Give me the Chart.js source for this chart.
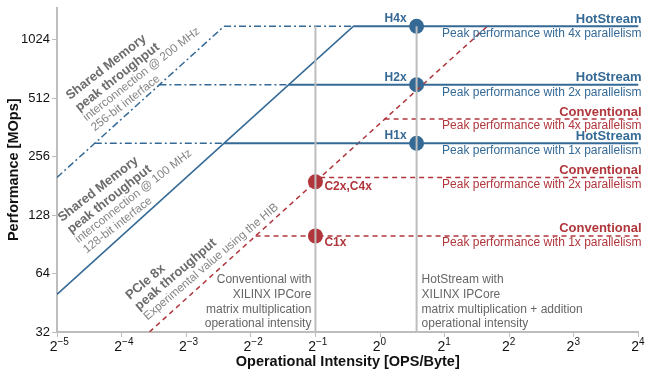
<!DOCTYPE html>
<html><head><meta charset="utf-8">
<script src="https://cdn.jsdelivr.net/npm/chart.js@4.4.1/dist/chart.umd.min.js"></script>
<style>html,body{margin:0;padding:0;background:#fff;}#wrap{width:646px;height:372px;}</style>
</head><body><div id="wrap"><canvas id="c" width="646" height="372"></canvas></div>
<script>
// ---- data ----
const xTickExponents = [-5, -4, -3, -2, -1, 0, 1, 2, 3, 4];
const yTicks = [32, 64, 128, 256, 512, 1024];
const xRange = [0.03125, 16];
const yRange = [32, 1500];

const hotStreamLevels = [300, 600, 1200];          // H1x, H2x, H4x (MOps)
const hotStreamLabels = ['H1x', 'H2x', 'H4x'];
const hotStreamOI = 1.48;
const hotStreamKnee100 = [0.1875, 0.375, 0.75];    // meets 100 MHz shared-memory roof
const hotStreamKnee200 = [0.046875, 0.09375, 0.1875]; // meets 200 MHz shared-memory roof
const conventionalLevels = [100, 200, 400];        // 1x, 2x, 4x
const conventionalKnee = [0.263, 0.526, 1.05];      // meets PCIe roof
const conventionalOI = 0.5;
const conventionalPoints = [100, 190];             // C1x ; C2x,C4x
const conventionalLabels = ['C1x', 'C2x,C4x'];
const parallelism = ['1x', '2x', '4x'];
const sharedMem100Roof = [[0.03125, 50], [0.75, 1200]];
const sharedMem200Roof = [[0.03125, 200], [0.1875, 1200]];
const pcieRoof = [[0.0842, 32], [3.16, 1200]];
const verticalTop = 1200;

// ---- styles ----
const BLUE = '#356a96';
const RED = '#b0363c';
const GRAY = '#bdbdbd';
const FONT = '"Liberation Sans", Arial, sans-serif';
const DASHDOT = [7, 3, 2, 3];
const DASH = [5, 4];

const pts = a => a.map(p => ({x: p[0], y: p[1]}));
const line = (data, color, width, dash) => ({
  type: 'line', data, borderColor: color, borderWidth: width, borderDash: dash || [],
  pointRadius: 0, fill: false, tension: 0, borderCapStyle: 'butt'
});

const datasets = [];
datasets.push(line([{x: conventionalOI, y: yRange[0]}, {x: conventionalOI, y: verticalTop}], GRAY, 2));
datasets.push(line([{x: hotStreamOI, y: yRange[0]}, {x: hotStreamOI, y: verticalTop}], GRAY, 2));
datasets.push(line(pts(sharedMem200Roof), BLUE, 1.5, DASHDOT));
datasets.push(line(pts(sharedMem100Roof), BLUE, 1.5));
hotStreamLevels.forEach((lv, i) => {
  datasets.push(line([{x: hotStreamKnee200[i], y: lv}, {x: hotStreamKnee100[i], y: lv}], BLUE, 1.5, DASHDOT));
  datasets.push(line([{x: hotStreamKnee100[i], y: lv}, {x: xRange[1], y: lv}], BLUE, 2));
});
datasets.push(line(pts(pcieRoof), RED, 1.5, DASH));
conventionalLevels.forEach((lv, i) => {
  datasets.push(line([{x: conventionalKnee[i], y: lv}, {x: xRange[1], y: lv}], RED, 1.5, DASH));
});
datasets.push({type: 'line', showLine: false, data: hotStreamLevels.map(v => ({x: hotStreamOI, y: v})),
  pointRadius: 7.5, pointBackgroundColor: BLUE, pointBorderWidth: 0, borderColor: BLUE});
datasets.push({type: 'line', showLine: false, data: conventionalPoints.map(v => ({x: conventionalOI, y: v})),
  pointRadius: 7.5, pointBackgroundColor: RED, pointBorderWidth: 0, borderColor: RED});

// ---- annotation layout (pixels) ----
const rotated = [
  {x: 70, y: 100, angle: 38, dy: [0, 15, 27, 40],
   lines: [['Shared Memory', 1], ['peak throughput', 1], ['interconnection @ 200 MHz', 0], ['256-bit interface', 0]]},
  {x: 62, y: 222, angle: 38, dy: [0, 15, 27, 40],
   lines: [['Shared Memory', 1], ['peak throughput', 1], ['interconnection @ 100 MHz', 0], ['128-bit interface', 0]]},
  {x: 130, y: 300, angle: 40.5, dy: [0, 14, 27],
   lines: [['PCIe 8x', 1], ['peak throughput', 1], ['Experimental value using the HIB', 0]]}
];

const annot = {
  id: 'annot',
  afterDraw(chart) {
    const ctx = chart.ctx, xs = chart.scales.x;
    ctx.save();
    ctx.fillStyle = '#111';
    xs.ticks.forEach(t => {
      const px = xs.getPixelForValue(t.value) + 0.5;
      const e = String(Math.round(Math.log2(t.value)));
      ctx.textBaseline = 'alphabetic';
      ctx.font = '14px ' + FONT; ctx.textAlign = 'right';
      ctx.fillText('2', px, 350.5);
      ctx.font = '10px ' + FONT; ctx.textAlign = 'left';
      ctx.fillText(e.replace('-', '\u2212'), px, 344.5);
    });
    ctx.restore();
  },
  afterDatasetsDraw(chart) {
    const ctx = chart.ctx, xs = chart.scales.x, ys = chart.scales.y, ca = chart.chartArea;
    ctx.save();
    rotated.forEach(b => {
      ctx.save();
      ctx.translate(b.x, b.y);
      ctx.rotate(-b.angle * Math.PI / 180);
      ctx.textAlign = 'left'; ctx.textBaseline = 'alphabetic';
      b.lines.forEach((l, i) => {
        ctx.font = (l[1] ? 'bold 13px ' : '11.7px ') + FONT;
        ctx.fillStyle = l[1] ? '#6c6c6c' : '#858585';
        ctx.fillText(l[0], 0, b.dy[i]);
      });
      ctx.restore();
    });
    const rx = ca.right + 3;
    ctx.textAlign = 'right'; ctx.textBaseline = 'middle';
    hotStreamLevels.forEach((lv, i) => {
      const y = ys.getPixelForValue(lv);
      ctx.fillStyle = BLUE;
      ctx.font = 'bold 13px ' + FONT; ctx.fillText('HotStream', rx, y - 7);
      ctx.font = '12px ' + FONT; ctx.fillText('Peak performance with ' + parallelism[i] + ' parallelism', rx, y + 7.5);
      ctx.font = 'bold 12px ' + FONT;
      ctx.fillText(hotStreamLabels[i], xs.getPixelForValue(hotStreamOI) - 10, y - 7.5);
    });
    conventionalLevels.forEach((lv, i) => {
      const y = ys.getPixelForValue(lv);
      ctx.fillStyle = RED;
      ctx.font = 'bold 13px ' + FONT; ctx.fillText('Conventional', rx, y - 7);
      ctx.font = '12px ' + FONT; ctx.fillText('Peak performance with ' + parallelism[i] + ' parallelism', rx, y + 7);
    });
    ctx.textAlign = 'left';
    ctx.fillStyle = RED; ctx.font = 'bold 12px ' + FONT;
    const cOff = [6.5, 4.5];
    conventionalPoints.forEach((v, i) => {
      ctx.fillText(conventionalLabels[i], xs.getPixelForValue(conventionalOI) + 9, ys.getPixelForValue(v) + cOff[i]);
    });
    ctx.fillStyle = '#666'; ctx.font = '12px ' + FONT;
    const noteY = [280, 295, 309.5, 324];
    const convNote = ['Conventional with', 'XILINX IPCore', 'matrix multiplication', 'operational intensity'];
    const hotNote = ['HotStream with', 'XILINX IPCore', 'matrix multiplication + addition', 'operational intensity'];
    ctx.textAlign = 'right';
    convNote.forEach((t, i) => ctx.fillText(t, xs.getPixelForValue(conventionalOI) - 4, noteY[i]));
    ctx.textAlign = 'left';
    hotNote.forEach((t, i) => ctx.fillText(t, xs.getPixelForValue(hotStreamOI) + 5, noteY[i]));
    ctx.restore();
  }
};

Chart.defaults.font.family = FONT;
new Chart(document.getElementById('c'), {
  data: {datasets},
  options: {
    responsive: false, animation: false, devicePixelRatio: 1,
    layout: {padding: {top: 5, right: 6, left: 0, bottom: 0}},
    plugins: {legend: {display: false}, tooltip: {enabled: false}},
    scales: {
      x: {
        type: 'logarithmic', min: xRange[0], max: xRange[1], position: 'bottom',
        afterBuildTicks: s => { s.ticks = xTickExponents.map(e => ({value: Math.pow(2, e)})); },
        afterFit: s => { s.height = 40; s.paddingLeft = 0; s.paddingRight = 0; },
        ticks: {display: false, autoSkip: false, maxRotation: 0},
        grid: {drawOnChartArea: false, tickLength: 5, color: GRAY, lineWidth: 1},
        border: {color: GRAY, width: 2},
        title: {display: true, text: 'Operational Intensity [OPS/Byte]', color: '#111',
          font: {size: 14.5, weight: 'bold'}, padding: {top: 0, bottom: 1}}
      },
      y: {
        type: 'logarithmic', min: yRange[0], max: yRange[1], position: 'left',
        afterBuildTicks: s => { s.ticks = yTicks.map(v => ({value: v})); },
        afterFit: s => { s.width = 57; s.paddingTop = 0; s.paddingBottom = 0; },
        ticks: {autoSkip: false, padding: 2, color: '#111', font: {size: 13}, callback: v => String(v)},
        grid: {drawOnChartArea: false, tickLength: 5, color: GRAY, lineWidth: 1},
        border: {color: GRAY, width: 2},
        title: {display: true, text: 'Performance [MOps]', color: '#111',
          font: {size: 14.5, weight: 'bold'}, padding: {top: 5, bottom: 0}}
      }
    }
  },
  plugins: [annot]
});
</script></body></html>
